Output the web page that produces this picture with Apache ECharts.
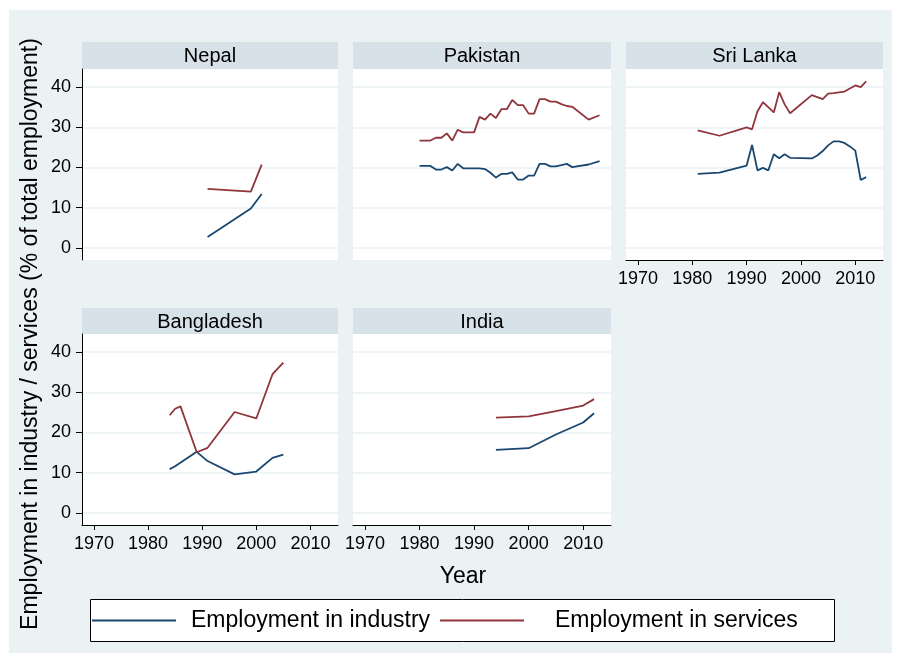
<!DOCTYPE html>
<html>
<head>
<meta charset="utf-8">
<script src="https://cdn.jsdelivr.net/npm/echarts@6/dist/echarts.min.js"></script>
<style>
  html, body { margin: 0; padding: 0; background: #ffffff; }
  #chart { width: 901px; height: 662px; }
</style>
</head>
<body>
<div id="chart"></div>
<script>
// Employment shares by country, South Asia
const countries = ['Nepal', 'Pakistan', 'Sri Lanka', 'Bangladesh', 'India'];
const seriesNames = ['Employment in industry', 'Employment in services'];
const yearTicks = [1970, 1980, 1990, 2000, 2010];
const valueTicks = [0, 10, 20, 30, 40];

const nepalYears = [1991, 1999, 2001];
const nepalIndustry = [2.7, 9.8, 13.4];
const nepalServices = [14.7, 14.0, 20.7];

const pakistanYears = [1980, 1982, 1983, 1984, 1985, 1986, 1987, 1988, 1990, 1991, 1992, 1993, 1994, 1995,
  1996, 1997, 1998, 1999, 2000, 2001, 2002, 2003, 2004, 2005, 2006, 2007, 2008, 2011, 2013];
const pakistanIndustry = [20.4, 20.4, 19.5, 19.5, 20.1, 19.25, 20.9, 19.8, 19.8, 19.8, 19.6, 18.7, 17.5, 18.4,
  18.4, 18.8, 17.0, 17.0, 18.0, 18.0, 20.9, 20.9, 20.3, 20.3, 20.6, 20.9, 20.1, 20.75, 21.6];
const pakistanServices = [26.7, 26.7, 27.4, 27.4, 28.5, 26.7, 29.4, 28.75, 28.75, 32.6, 31.9, 33.4, 32.3, 34.5,
  34.5, 36.8, 35.5, 35.5, 33.4, 33.4, 37.0, 37.0, 36.4, 36.4, 35.75, 35.3, 35.1, 31.9, 33.0];

const sriLankaYears = [1981, 1985, 1990, 1991, 1992, 1993, 1994, 1995, 1996, 1997, 1998, 2002, 2003, 2004,
  2005, 2006, 2007, 2008, 2009, 2010, 2011, 2012];
const sriLankaIndustry = [18.4, 18.75, 20.5, 25.6, 19.3, 19.9, 19.3, 23.3, 22.3, 23.3, 22.4, 22.25, 23.0, 24.1,
  25.5, 26.5, 26.5, 26.1, 25.25, 24.2, 16.9, 17.6];
const sriLankaServices = [29.25, 27.9, 30.0, 29.5, 34.0, 36.25, null, 33.7, 38.75, 35.7, 33.5, 38.0, null, 37.0,
  38.4, 38.5, null, 38.9, null, 40.4, 40.0, 41.4];

const bangladeshYears = [1984, 1985, 1986, 1989, 1991, 1996, 2000, 2003, 2005];
const bangladeshIndustry = [10.9, 11.6, null, 15.2, 12.9, 9.6, 10.3, 13.7, 14.5];
const bangladeshServices = [24.3, 25.9, 26.5, 15.1, 16.2, 25.1, 23.5, 34.5, 37.4];

const indiaYears = [1994, 2000, 2005, 2010, 2012];
const indiaIndustry = [15.7, 16.1, 19.5, 22.5, 24.8];
const indiaServices = [23.7, 24.0, 25.3, 26.7, 28.3];

const panelData = [
  [nepalYears, nepalIndustry, nepalServices],
  [pakistanYears, pakistanIndustry, pakistanServices],
  [sriLankaYears, sriLankaIndustry, sriLankaServices],
  [bangladeshYears, bangladeshIndustry, bangladeshServices],
  [indiaYears, indiaIndustry, indiaServices]
];

// Layout of the small multiples
const FONT = '"Liberation Sans", Arial, Helvetica, sans-serif';
const COLORS = ['#1a476f', '#90353b'];
const BG = '#eaf2f3';
const STRIP = '#d6e2e7';
const panels = [
  { left: 82,  top: 69,  width: 256, height: 191, strip: 27, yAxis: true,  xAxis: false },
  { left: 353, top: 69,  width: 258, height: 191, strip: 27, yAxis: false, xAxis: false },
  { left: 626, top: 69,  width: 257, height: 191, strip: 27, yAxis: false, xAxis: true },
  { left: 82,  top: 334, width: 256, height: 191, strip: 26, yAxis: true,  xAxis: true },
  { left: 353, top: 334, width: 258, height: 191, strip: 26, yAxis: false, xAxis: true }
];

const zip = (xs, ys) => xs.map((x, i) => [x, ys[i]]);
const plain = v => String(v);

const grids = [], xAxes = [], yAxes = [], series = [];
const graphics = [
  { type: 'rect', z: -10, shape: { x: 9, y: 10, width: 883, height: 643 }, style: { fill: BG } }
];

panels.forEach((p, i) => {
  grids.push({
    left: p.left, top: p.top, width: p.width, height: p.height,
    show: true, backgroundColor: '#ffffff', borderWidth: 0, containLabel: false
  });
  xAxes.push({
    gridIndex: i, type: 'value', min: 1967.8, max: 2015.1,
    axisLine: { show: p.xAxis, onZero: false, lineStyle: { color: '#000', width: 1 } },
    axisTick: { show: p.xAxis, length: 5, customValues: yearTicks, lineStyle: { color: '#000' } },
    axisLabel: { show: p.xAxis, customValues: yearTicks, formatter: plain, margin: 10, fontSize: 18,
      color: '#000', fontFamily: FONT },
    splitLine: { show: false }
  });
  yAxes.push({
    gridIndex: i, type: 'value', min: -3, max: 44.5,
    axisLine: { show: p.yAxis, onZero: false, lineStyle: { color: '#000', width: 1 } },
    axisTick: { show: p.yAxis, length: 6, customValues: valueTicks, lineStyle: { color: '#000' } },
    axisLabel: { show: p.yAxis, customValues: valueTicks, formatter: plain, margin: 11, fontSize: 18,
      color: '#000', fontFamily: FONT },
    splitLine: { show: true, lineStyle: { color: BG, width: 1.5 } }
  });
  const [years, industry, services] = panelData[i];
  [industry, services].forEach((vals, k) => {
    series.push({
      name: seriesNames[k], type: 'line', xAxisIndex: i, yAxisIndex: i,
      data: zip(years, vals), connectNulls: true, symbol: 'none', silent: true,
      lineStyle: { color: COLORS[k], width: 1.8 }, itemStyle: { color: COLORS[k] }
    });
  });
  // panel title strip
  graphics.push({
    type: 'rect', z: -5,
    shape: { x: p.left, y: p.top - p.strip, width: p.width, height: p.strip },
    style: { fill: STRIP }
  });
  graphics.push({
    type: 'text', z: 5, x: p.left + p.width / 2, y: p.top - p.strip / 2 + 1,
    style: { text: countries[i], font: '20px ' + FONT, fill: '#000', align: 'center', verticalAlign: 'middle' }
  });
});

// axis titles
graphics.push({
  type: 'text', z: 5, x: 31, y: 334, rotation: Math.PI / 2,
  style: { text: 'Employment in industry / services (% of total employment)', font: '23px ' + FONT,
    fill: '#000', align: 'center', verticalAlign: 'middle' }
});
graphics.push({
  type: 'text', z: 5, x: 463, y: 577,
  style: { text: 'Year', font: '23px ' + FONT, fill: '#000', align: 'center', verticalAlign: 'middle' }
});
// legend frame
graphics.push({
  type: 'rect', z: -2, shape: { x: 90.5, y: 599.5, width: 744, height: 42 },
  style: { fill: '#ffffff', stroke: '#000', lineWidth: 1 }
});

const legendBase = {
  orient: 'horizontal', top: 609, padding: 0, icon: 'rect', itemWidth: 84, itemHeight: 2, itemGap: 0,
  selectedMode: false
};

const option = {
  animation: false,
  backgroundColor: '#ffffff',
  grid: grids,
  xAxis: xAxes,
  yAxis: yAxes,
  series: series,
  legend: [
    Object.assign({}, legendBase, {
      left: 92, data: [{ name: seriesNames[0], itemStyle: { color: COLORS[0] } }],
      textStyle: { fontSize: 23, color: '#000', fontFamily: FONT, padding: [0, 0, 0, 10] }
    }),
    Object.assign({}, legendBase, {
      left: 440, data: [{ name: seriesNames[1], itemStyle: { color: COLORS[1] } }],
      textStyle: { fontSize: 23, color: '#000', fontFamily: FONT, padding: [0, 0, 0, 26] }
    })
  ],
  graphic: { elements: graphics }
};

const chart = echarts.init(document.getElementById('chart'), null, { renderer: 'canvas' });
chart.setOption(option);
</script>
</body>
</html>
